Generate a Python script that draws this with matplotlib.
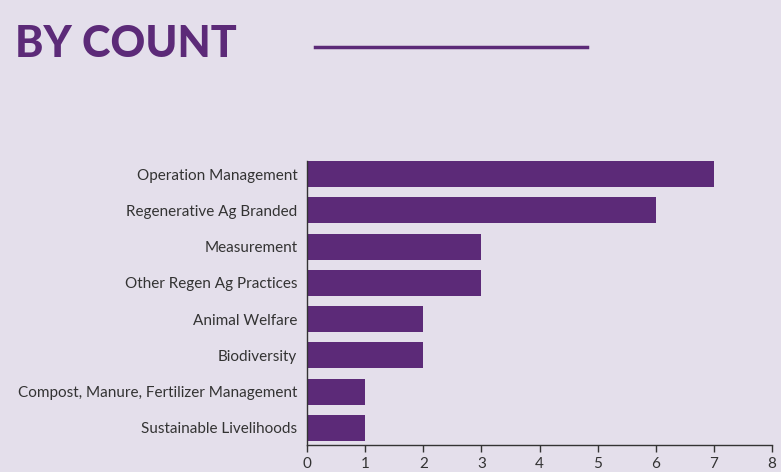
import matplotlib.pyplot as plt
from matplotlib.lines import Line2D

categories = [
    'Operation Management',
    'Regenerative Ag Branded',
    'Measurement',
    'Other Regen Ag Practices',
    'Animal Welfare',
    'Biodiversity',
    'Compost, Manure, Fertilizer Management',
    'Sustainable Livelihoods',
]
counts = [7, 6, 3, 3, 2, 2, 1, 1]
x_ticks = [0, 1, 2, 3, 4, 5, 6, 7, 8]

bg = '#E4DFEB'
purple = '#5C2A78'
text_col = '#333333'

plt.rcParams['font.family'] = ['Lato', 'DejaVu Sans']

fig = plt.figure(figsize=(7.81, 4.72), dpi=100, facecolor=bg)
ax = fig.add_axes([307 / 781, 27 / 472, 465 / 781, 284 / 472])
ax.set_facecolor(bg)

ypos = list(range(len(categories)))
ax.barh(ypos, counts, height=0.72, color=purple)
ax.set_ylim(7.47, -0.36)
ax.set_xlim(0, 8)

ax.set_yticks(ypos)
ax.set_yticklabels(categories, fontsize=11, color=text_col)
ax.tick_params(axis='y', length=0, pad=7)
ax.set_xticks(x_ticks)
ax.tick_params(axis='x', length=5, width=1, color=text_col, labelsize=11,
               labelcolor=text_col, pad=4)

for side in ['top', 'right']:
    ax.spines[side].set_visible(False)
ax.spines['left'].set_color(text_col)
ax.spines['bottom'].set_color(text_col)
ax.spines['left'].set_linewidth(1)
ax.spines['bottom'].set_linewidth(1)

# heading with rule to its right
fig.text(15 / 781, 1 - 44 / 472, 'BY COUNT', fontsize=31, fontweight='black',
         color=purple, va='center', ha='left')
fig.add_artist(Line2D([315 / 781, 587 / 781], [1 - 47 / 472, 1 - 47 / 472],
                      color=purple, linewidth=2.5, transform=fig.transFigure))

fig.savefig('out.png', dpi=100, facecolor=bg)
